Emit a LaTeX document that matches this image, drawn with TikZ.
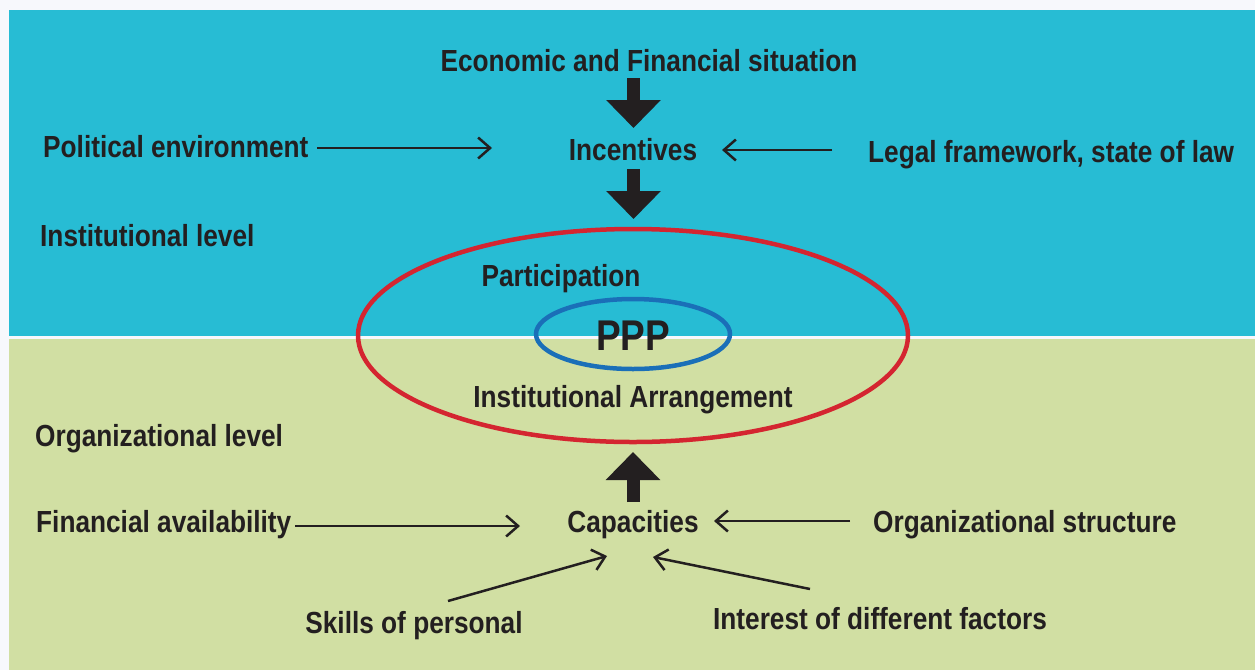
\documentclass[tikz,border=0pt]{standalone}
\usepackage{fontspec}
\setmainfont{Liberation Sans}[FakeStretch=0.86]
\usetikzlibrary{arrows.meta}
\definecolor{bgw}{HTML}{F7F8FC}
\definecolor{cyanb}{HTML}{27BCD4}
\definecolor{greenb}{HTML}{D1DFA3}
\definecolor{txt}{HTML}{231F20}
\definecolor{redl}{HTML}{D42530}
\definecolor{bluel}{HTML}{1A6FB8}
\tikzset{
  lbl/.style={inner sep=0pt, text=txt, font=\fontsize{30.5}{36}\selectfont\bfseries},
  thin arrow/.style={draw=txt, line width=2.5pt, -{Straight Barb[length=12pt,width=21pt,line width=2.5pt]}},
  big arrow/.style={draw=txt, line width=13pt, -{Triangle[length=28pt,width=53pt]}}
}
\begin{document}
\begin{tikzpicture}[x=1pt,y=-1pt]
\useasboundingbox (0,0) rectangle (1255,670);
\fill[bgw] (0,0) rectangle (1255,670);
\fill[cyanb] (9,10) rectangle (1255,335.5);
\fill[greenb] (9,339) rectangle (1255,670);

% texts
\node[lbl, anchor=base] (econ) at (649,71) {Economic and Financial situation};
\node[lbl, anchor=base west] (pol) at (43,157) {Political environment};
\node[lbl, anchor=base] (inc) at (633,160) {Incentives};
\node[lbl, anchor=base west] (legal) at (868,162) {Legal framework, state of law};
\node[lbl, anchor=base west] (instl) at (40,246) {Institutional level};
\node[lbl, anchor=base] (part) at (561,286) {Participation};
\node[lbl, anchor=base, font=\fontsize{43}{50}\selectfont\bfseries] (ppp) at (633,350) {PPP};
\node[lbl, anchor=base] (arr) at (633,407) {Institutional Arrangement};
\node[lbl, anchor=base west] (orgl) at (35,446) {Organizational level};
\node[lbl, anchor=base] (cap) at (633,532) {Capacities};
\node[lbl, anchor=base west] (fin) at (36,532) {Financial availability};
\node[lbl, anchor=base west] (orgs) at (873,532) {Organizational structure};
\node[lbl, anchor=base] (skill) at (414,633) {Skills of personal};
\node[lbl, anchor=base] (inter) at (880,629) {Interest of different factors};

% ellipses
\draw[redl, line width=4.5pt] (633,335.5) ellipse [x radius=275pt, y radius=106.5pt];
\draw[bluel, line width=4.5pt] (633,334) ellipse [x radius=97pt, y radius=35pt];

% coordinates for connectors
\coordinate (e1) at (633.5,78);
\coordinate (e2) at (633.5,128);
\coordinate (i1) at (633.5,169);
\coordinate (i2) at (633.5,219);
\coordinate (c1) at (633,502);
\coordinate (c2) at (633,452);
\coordinate (p1) at (317,148);
\coordinate (p2) at (492,148);
\coordinate (l1) at (832,150);
\coordinate (l2) at (722,150);
\coordinate (f1) at (295,526);
\coordinate (f2) at (520,526);
\coordinate (o1) at (850,521);
\coordinate (o2) at (714,521);
\coordinate (s1) at (448,601);
\coordinate (s2) at (607,556);
\coordinate (n1) at (810,589);
\coordinate (n2) at (653,557);

\draw[big arrow] (e1) -- (e2);
\draw[big arrow] (i1) -- (i2);
\draw[big arrow] (c1) -- (c2);
\draw[thin arrow] (p1) -- (p2);
\draw[thin arrow] (l1) -- (l2);
\draw[thin arrow] (f1) -- (f2);
\draw[thin arrow] (o1) -- (o2);
\draw[thin arrow] (s1) -- (s2);
\draw[thin arrow] (n1) -- (n2);
\end{tikzpicture}
\end{document}
